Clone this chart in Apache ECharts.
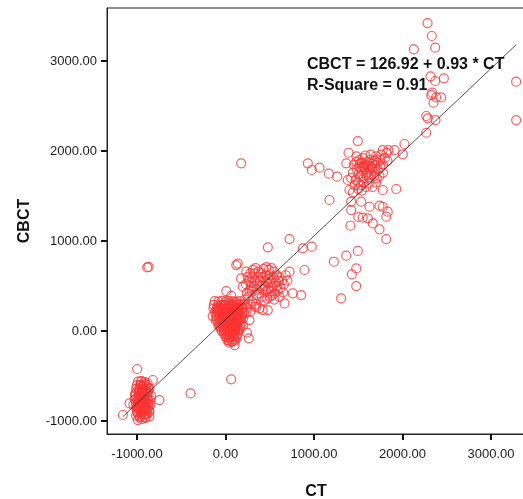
<!DOCTYPE html>
<html>
<head>
<meta charset="utf-8">
<script src="https://cdn.jsdelivr.net/npm/echarts@6/dist/echarts.min.js"></script>
<style>html,body{margin:0;padding:0;background:#fff;}#c{width:523px;height:499px;}</style>
</head>
<body>
<div id="c"></div>
<script>
// Tick values
var xTicks = [-1000, 0, 1000, 2000, 3000];
var yTicks = [-1000, 0, 1000, 2000, 3000];

// Fit: CBCT = 126.92 + 0.93 * CT
var fitIntercept = 126.92;
var fitSlope = 0.93;
var fitLabel1 = 'CBCT = 126.92 + 0.93 * CT';
var fitLabel2 = 'R-Square = 0.91';

// Points [CT, CBCT], grouped by cluster
var airCluster = [
  [-998,-422],[-1160,-933],[-1085,-804],[-821,-544],[-746,-767],[-991,-989],
  [-960,-600],[-940,-620],[-920,-580],[-900,-640],[-970,-650],[-950,-680],[-930,-700],
  [-910,-660],[-890,-690],[-980,-720],[-960,-740],[-940,-760],[-920,-730],[-900,-710],
  [-880,-750],[-990,-780],[-970,-800],[-950,-820],[-930,-790],[-910,-840],[-890,-800],
  [-1000,-850],[-980,-870],[-960,-890],[-940,-910],[-920,-880],[-900,-930],[-880,-860],
  [-860,-900],[-1010,-940],[-970,-950],[-945,-980],[-910,-960],[-850,-820],[-840,-720],
  [-860,-640],[-1020,-700],[-1040,-820],[-1000,-900],[-860,-950],[-950,-560],[-930,-650],
  [-1020,-760],[-880,-580],[-955,-700],[-935,-730],[-915,-770],[-965,-830],[-925,-850]
];
var airCore = [
  [-988,-562],[-951,-555],[-912,-566],
  [-1002,-603],[-963,-598],[-931,-607],[-893,-601],
  [-1011,-642],[-973,-637],[-942,-646],[-903,-641],[-871,-636],
  [-1016,-683],[-978,-677],[-947,-686],[-908,-681],[-876,-678],
  [-1022,-721],[-983,-716],[-952,-726],[-913,-719],[-882,-722],
  [-1019,-762],[-987,-757],[-948,-766],[-917,-761],[-878,-758],[-852,-764],
  [-1013,-801],[-982,-797],[-943,-806],[-908,-799],[-873,-803],
  [-1008,-842],[-977,-837],[-938,-846],[-903,-841],[-868,-838],
  [-1001,-882],[-963,-877],[-932,-886],[-893,-879],[-862,-884],
  [-988,-921],[-957,-917],[-918,-926],[-887,-919],
  [-968,-962],[-933,-958],[-902,-965]
];
var waterCluster = [
  [8,444],[-90,230],[-100,180],[-110,120],[-80,60],[-40,0],[0,-60],[20,-100],[40,-130],
  [70,-120],[100,-90],[130,-50],[160,20],[180,80],[200,140],[210,200],[190,260],[150,300],
  [100,320],[50,310],[0,290],[-50,280],[263,-81],[271,122],[64,-537],
  [-60,220],[-30,240],[0,250],[30,260],[60,270],[90,280],[120,260],[150,240],[-70,160],
  [-40,180],[-10,190],[20,200],[50,210],[80,220],[110,200],[140,190],[170,170],[-60,100],
  [-30,120],[0,130],[30,140],[60,150],[90,160],[120,140],[150,120],[-50,40],[-20,60],
  [10,70],[40,80],[70,90],[100,100],[130,80],[-20,10],[10,20],[40,30],[70,40],[100,30],
  [20,-40],[50,-30],[80,-20],[110,0],[40,-80],[70,-70],[90,-40],[30,160],[60,110],
  [-10,150],[0,100],[80,180],[50,240],[-80,260],[110,50],[140,150],[60,0],[0,40],[20,110],
  [100,230],[130,210],[-30,200],[-100,240],[-20,290],[200,60],[170,240],[230,200],[240,260],
  [65,390],[281,216],[242,-17],[104,-156],[-145,166],[215,305]
];
var waterCore = [
  [-121,332],[-79,327],[-42,334],[3,329],[38,336],[82,331],[118,326],[161,333],
  [-132,291],[-88,286],[-52,294],[-9,288],[31,293],[72,287],[108,292],[151,289],[188,294],
  [-136,249],[-93,254],[-57,247],[-13,252],[27,248],[63,253],[107,246],[143,251],[186,248],
  [-118,212],[-82,207],[-38,213],[2,208],[41,214],[78,209],[122,211],[158,206],[194,213],
  [-108,172],[-71,167],[-28,173],[11,168],[48,172],[92,166],[128,171],[169,168],
  [-98,131],[-62,127],[-19,133],[22,128],[58,132],[102,126],[138,131],[174,129],
  [-83,92],[-47,87],[-4,93],[36,88],[73,91],[117,86],[153,92],
  [-63,51],[-27,47],[16,53],[53,48],[97,52],[133,47],[166,51],
  [-48,12],[-11,8],[31,13],[68,7],[112,12],[148,9],
  [-18,-28],[21,-33],[58,-27],[102,-32],[138,-29],
  [12,-68],[48,-73],[91,-67],[128,-71],
  [41,-108],[79,-113],[111,-106]
];
var tissueCluster = [
  [121,733],[139,750],[177,585],[234,659],[290,493],[195,493],[723,659],[892,678],
  [760,419],[855,400],[667,307],[478,233],[384,252],[328,270],[347,270],[421,233],
  [250,600],[280,640],[310,680],[340,700],[370,660],[400,640],[430,690],[460,710],
  [490,680],[520,700],[550,660],[580,620],[610,600],[640,560],[660,520],[620,480],
  [590,450],[560,420],[530,400],[500,380],[470,360],[440,340],[410,380],[380,420],
  [350,460],[320,500],[290,540],[260,560],[230,520],[300,600],[330,560],[360,520],
  [390,560],[420,600],[450,620],[480,580],[510,540],[540,500],[570,540],[600,560],
  [450,500],[420,460],[480,460],[510,440],[540,600],[500,620],[460,440],[400,500],
  [370,600],[330,640],[270,450],[240,420],[550,350],[610,380],[650,430],[700,560],
  [680,620],[470,540],[520,480],[440,560],[580,500],[350,400],[300,440],
  [220,350],[260,380],[300,330],[340,300],[280,300]
];
var boneCluster = [
  [1450,1850],[1480,1880],[1510,1900],[1540,1870],[1570,1850],[1600,1880],[1630,1900],
  [1660,1860],[1690,1840],[1720,1870],[1750,1900],[1480,1800],[1510,1820],[1540,1780],
  [1570,1800],[1600,1760],[1630,1790],[1660,1810],[1690,1770],[1720,1790],[1750,1820],
  [1780,1850],[1500,1740],[1530,1720],[1560,1700],[1590,1730],[1620,1710],[1650,1740],
  [1680,1720],[1710,1700],[1470,1680],[1500,1650],[1530,1620],[1560,1660],[1590,1600],
  [1620,1640],[1440,1760],[1420,1700],[1460,1620],[1500,1580],[1540,1560],[1580,1820],
  [1610,1840],[1550,1920],[1580,1950],[1640,1960],[1700,1940],[1760,1960],[1820,1980],
  [1800,1920],[1830,1890],[1780,1760],[1740,1720],[1700,1650],[1660,1600],[1520,1860],
  [1560,1830],[1640,1830],[1680,1890],[1480,1940],[1390,1981],[1364,1863],[1440,1540],
  [1495,2111],[2022,2078],[2004,1963],[1777,2011],[1840,2011],[1910,2011],[1702,1907],
  [177,1863],[930,1863],[975,1789],[1062,1815],[1167,1748],[1262,1715],[1382,1678],
  [1401,1567],[1929,1578],[1777,1567],[1175,1456],[1420,1437],[1533,1437],[1627,1381],
  [1740,1393],[1777,1381],[1420,1344],[1833,1326],[1816,1270],[1500,1267],[1550,1259],
  [1608,1252],[1412,1170],[1664,1196],[1740,1130],[1816,1022],[723,1022],[478,930],
  [873,919],[975,937],[1495,890],[1224,770],[1364,837],[1477,696],[1427,630],[1477,500],
  [1307,363]
];
var denseBone = [
  [2283,3422],[2331,3278],[2369,3148],[2128,3130],[2316,2830],[2369,2778],[2467,2808],
  [2335,2648],[2380,2596],[2437,2596],[2350,2537],[2324,2622],[2268,2389],[2286,2363],
  [2373,2344],[2268,2203],[3284,2770],[3284,2344]
];
var outliers = [
  [-885,707],[-870,712],[-395,-693]
];

var allPoints = [].concat(airCluster, airCore, waterCluster, waterCore, tissueCluster, boneCluster, denseBone, outliers);
var ctMin = Math.min.apply(null, allPoints.map(function(p){return p[0];}));
var ctMax = Math.max.apply(null, allPoints.map(function(p){return p[0];}));
var fitLine = [
  [ctMin, fitIntercept + fitSlope * ctMin],
  [ctMax, fitIntercept + fitSlope * ctMax]
];

var chart = echarts.init(document.getElementById('c'), null, {renderer: 'canvas'});
var labelFont = {fontFamily: 'Liberation Sans, Arial, sans-serif', fontSize: 13, color: '#1a1a1a'};
var nameFont = {fontFamily: 'Liberation Sans, Arial, sans-serif', fontSize: 16, fontWeight: 'bold', color: '#111'};
chart.setOption({
  animation: false,
  backgroundColor: '#fff',
  grid: {left: 107, right: -2, top: 8, bottom: 65, show: true, borderColor: '#222', borderWidth: 1,
         containLabel: false, outerBoundsMode: 'none'},
  xAxis: {
    type: 'value', min: -1339, max: 3384,
    name: 'CT', nameLocation: 'middle', nameGap: 50,
    nameTextStyle: nameFont,
    splitLine: {show: false},
    axisLine: {show: true, onZero: false, lineStyle: {color: '#222', width: 1}},
    axisTick: {show: true, length: 6, lineStyle: {color: '#111', width: 2}, customValues: xTicks},
    axisLabel: Object.assign({margin: 14, customValues: xTicks, formatter: function(v){return v.toFixed(2);}}, labelFont)
  },
  yAxis: {
    type: 'value', min: -1144, max: 3589,
    name: 'CBCT', nameLocation: 'middle', nameGap: 74,
    nameTextStyle: nameFont,
    splitLine: {show: false},
    axisLine: {show: true, onZero: false, lineStyle: {color: '#222', width: 1}},
    axisTick: {show: true, length: 6, lineStyle: {color: '#111', width: 2}, customValues: yTicks},
    axisLabel: Object.assign({margin: 10, customValues: yTicks, formatter: function(v){return v.toFixed(2);}}, labelFont)
  },
  series: [
    {
      type: 'scatter', data: allPoints, symbol: 'circle', symbolSize: 9,
      itemStyle: {color: 'rgba(0,0,0,0)', borderColor: '#ff3333', borderWidth: 1.2},
      z: 2, silent: true
    },
    {
      type: 'line', data: fitLine, showSymbol: false, symbol: 'none',
      lineStyle: {color: '#222', width: 0.8}, z: 3, silent: true
    }
  ],
  graphic: [
    {type: 'text', left: 307, top: 57, z: 10, style: {text: fitLabel1, fill: '#111', font: 'bold 16px Liberation Sans, Arial, sans-serif'}},
    {type: 'text', left: 307, top: 78, z: 10, style: {text: fitLabel2, fill: '#111', font: 'bold 16px Liberation Sans, Arial, sans-serif'}}
  ]
});
</script>
</body>
</html>
